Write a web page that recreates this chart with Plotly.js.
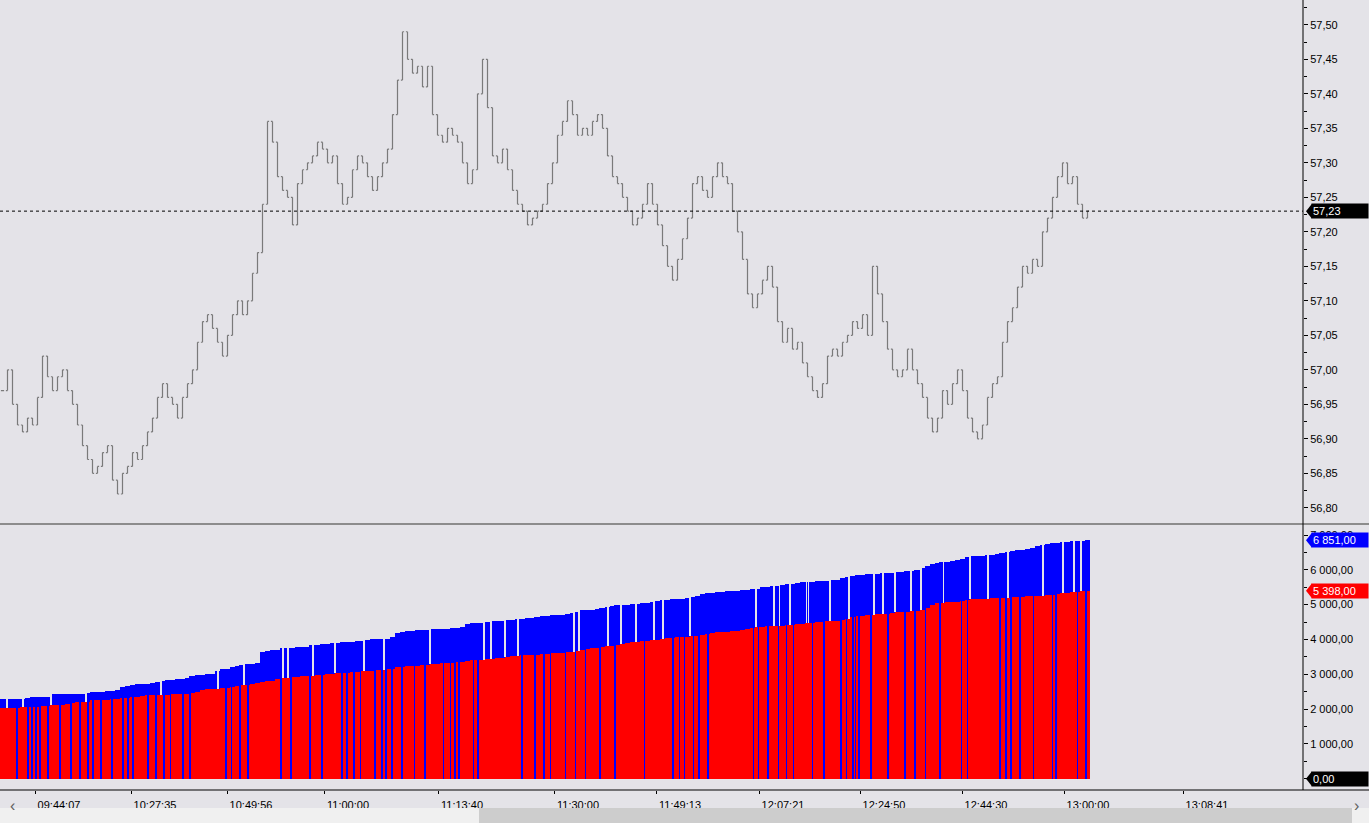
<!DOCTYPE html>
<html><head><meta charset="utf-8">
<script src="https://cdn.plot.ly/plotly-3.0.1.min.js"></script>
<style>html,body{margin:0;padding:0;background:#e4e3e8;overflow:hidden}#chart{width:1369px;height:823px}</style>
</head><body><div id="chart"></div>
<script>
// ---- data ----
const priceClose = [
56.97,57.00,56.95,56.92,56.91,56.93,56.92,56.96,57.02,56.99,
56.97,56.99,57.00,56.97,56.95,56.92,56.89,56.87,56.85,56.86,
56.88,56.89,56.84,56.82,56.85,56.86,56.88,56.87,56.89,56.91,
56.93,56.96,56.98,56.96,56.95,56.93,56.96,56.98,57.00,57.04,
57.07,57.08,57.06,57.04,57.02,57.05,57.08,57.10,57.08,57.10,
57.14,57.17,57.24,57.36,57.33,57.28,57.26,57.25,57.21,57.27,
57.29,57.30,57.31,57.33,57.32,57.30,57.31,57.27,57.24,57.25,
57.29,57.31,57.30,57.28,57.26,57.28,57.30,57.32,57.37,57.42,
57.49,57.45,57.43,57.44,57.41,57.44,57.37,57.34,57.33,57.35,
57.34,57.33,57.30,57.27,57.29,57.40,57.45,57.38,57.31,57.30,
57.32,57.29,57.26,57.24,57.23,57.21,57.22,57.23,57.24,57.27,
57.30,57.34,57.36,57.39,57.37,57.34,57.35,57.34,57.36,57.37,
57.35,57.31,57.28,57.27,57.25,57.23,57.21,57.22,57.24,57.27,
57.24,57.21,57.18,57.15,57.13,57.16,57.19,57.22,57.27,57.28,
57.26,57.25,57.28,57.30,57.28,57.27,57.23,57.20,57.16,57.11,
57.09,57.11,57.13,57.15,57.12,57.07,57.04,57.06,57.03,57.04,
57.01,56.99,56.97,56.96,56.98,57.02,57.03,57.02,57.04,57.05,
57.07,57.06,57.08,57.05,57.15,57.11,57.07,57.03,57.00,56.99,
57.00,57.03,57.00,56.98,56.96,56.93,56.91,56.93,56.97,56.95,
56.98,57.00,56.97,56.93,56.91,56.90,56.92,56.96,56.98,56.99,
57.04,57.07,57.09,57.12,57.15,57.14,57.16,57.15,57.20,57.22,
57.25,57.28,57.30,57.27,57.28,57.24,57.22,57.23];

const buyVolume = [
2280,2290,2290,2300,2300,2330,2340,2340,2340,2350,
2420,2430,2430,2430,2440,2440,2440,2450,2490,2500,
2500,2510,2520,2560,2620,2650,2700,2720,2720,2730,
2760,2780,2800,2830,2840,2850,2860,2900,2950,2970,
2980,3000,3020,3080,3150,3160,3200,3240,3270,3290,
3300,3310,3650,3680,3690,3700,3740,3760,3760,3770,
3780,3790,3830,3850,3860,3880,3890,3900,3920,3930,
3940,3950,3960,3980,4000,4000,4010,4020,4080,4180,
4200,4230,4250,4270,4280,4280,4290,4300,4300,4310,
4320,4330,4370,4450,4460,4470,4480,4500,4520,4530,
4540,4550,4560,4580,4600,4610,4630,4650,4660,4670,
4690,4700,4710,4730,4760,4800,4840,4850,4860,4880,
4900,4930,4960,4980,4990,5000,5010,5030,5050,5060,
5080,5100,5120,5140,5150,5160,5170,5190,5230,5260,
5300,5330,5340,5350,5360,5380,5390,5400,5420,5430,
5440,5460,5500,5510,5530,5540,5560,5580,5600,5620,
5640,5650,5660,5670,5680,5690,5700,5720,5760,5800,
5820,5840,5860,5870,5880,5890,5900,5910,5920,5940,
5950,5960,5970,5990,6050,6120,6180,6200,6220,6230,
6250,6280,6320,6370,6390,6400,6410,6420,6440,6460,
6480,6520,6550,6570,6580,6600,6640,6680,6700,6740,
6760,6780,6800,6810,6820,6830,6840,6851];

const sellVolume = [
2020,2030,2030,2030,2050,2060,2070,2070,2080,2090,
2120,2130,2130,2140,2180,2190,2190,2200,2250,2260,
2260,2270,2280,2300,2320,2330,2340,2340,2370,2400,
2400,2400,2410,2410,2420,2420,2430,2430,2450,2480,
2560,2570,2570,2580,2600,2610,2620,2650,2690,2700,
2720,2740,2780,2800,2820,2850,2880,2900,2910,2920,
2940,2950,2960,2980,2990,3000,3010,3030,3040,3050,
3060,3070,3080,3090,3100,3110,3120,3140,3160,3200,
3220,3230,3240,3250,3260,3280,3290,3300,3310,3320,
3330,3340,3360,3390,3410,3420,3420,3430,3440,3460,
3480,3500,3520,3530,3540,3550,3550,3560,3570,3590,
3600,3610,3620,3630,3640,3660,3700,3730,3750,3760,
3780,3800,3820,3850,3880,3900,3920,3940,3950,3960,
3980,3990,4010,4030,4050,4060,4070,4080,4090,4100,
4120,4150,4180,4200,4210,4220,4230,4250,4270,4300,
4320,4350,4370,4380,4380,4390,4400,4410,4420,4430,
4440,4460,4470,4500,4510,4520,4530,4540,4560,4600,
4640,4660,4680,4700,4710,4720,4730,4740,4760,4780,
4790,4800,4810,4830,4860,4900,4980,5050,5060,5070,
5080,5090,5100,5140,5150,5160,5160,5170,5180,5180,
5190,5200,5210,5220,5230,5240,5250,5250,5260,5270,
5280,5300,5320,5340,5360,5370,5380,5398];

// bar positions where only the blue (buy) bar is present
const buyOnlyBars = [2.86,5.1,5.9,6.7,7.5,9.1,11.5,13.7,15.5,17.1,18.1,19.7,21.9,24.1,25.1,26.1,29.1,30.7,32.3,33.6,
36.1,37.5,44.7,45.8,47.5,49.1,55.7,57.7,61.5,63.9,67.9,68.9,70.3,71.6,74.5,75.9,76.7,77.9,79.9,82.4,84.5,88.2,89.6,
90.5,91.3,94.2,95.1,103.9,106.5,108.3,109.6,112.6,114.6,116.6,119.5,122.5,128.4,134.1,135.4,136.4,138.2,139.3,141.1,
150.2,151.2,153.1,155.2,156.8,158.2,162,164.3,167.7,168.8,170.1,170.6,171.3,173.7,177.1,180.5,182.5,184.6,187.5,
191.8,193,199.5,200.7,201.7,203.5,206.2,210,210.7,215,216.7];
// bar positions where the blue (buy) bar is missing
const buyMissingBars = [0.9,4.1,9.7,16.7,31.7,43.1,48.3,56.1,57.1,62.1,66.5,72.3,76.3,85.5,96.3,97.7,100.5,103.1,
114.3,115.3,121.1,123.7,126.7,130.3,132.1,137.5,150.7,154.3,155.3,157.5,160.8,161.2,165.5,169.3,174.3,176.1,178.5,
181.7,183.7,188.2,193.5,197.1,201.1,208.1,212.1,214.3,215.7];

const timeTickPos = [6.5,25.7,44.9,64.3,87.1,110.3,130.7,151.3,171.5,191.9,212.3,236.1];
const timeTickText = ['09:44:07','10:27:35','10:49:56','11:00:00','11:13:40','11:30:00','11:49:13','12:07:21','12:24:50','12:44:30','13:00:00','13:08:41'];
const volTickVals = [1000,2000,3000,4000,5000,6000,7000];
const lastPrice = 57.23;
const lastBuy = 6851;
const lastSell = 5398;

// ---- build traces ----
const BG = '#e4e3e8';
const idx = priceClose.map((_, i) => i);
const openArr = priceClose.map((c, i) => i === 0 ? c : priceClose[i - 1]);
const highArr = priceClose.map((c, i) => Math.max(c, openArr[i]));
const lowArr = priceClose.map((c, i) => Math.min(c, openArr[i]));

const traces = [
  {type:'ohlc', x:idx, open:openArr, high:highArr, low:lowArr, close:priceClose,
   xaxis:'x', yaxis:'y', tickwidth:0.32,
   increasing:{line:{color:'#7a7a7a', width:1.2}}, decreasing:{line:{color:'#7a7a7a', width:1.2}},
   hoverinfo:'skip', showlegend:false},
  {type:'bar', x:idx, y:buyVolume, width:1, xaxis:'x', yaxis:'y2',
   marker:{color:'#0000ff', line:{width:0}}, hoverinfo:'skip', showlegend:false},
  {type:'bar', x:idx, y:sellVolume, width:1, xaxis:'x', yaxis:'y2',
   marker:{color:'#ff0000', line:{width:0}}, hoverinfo:'skip', showlegend:false},
  {type:'bar', x:buyMissingBars,
   base:buyMissingBars.map(p => sellVolume[Math.round(p)]),
   y:buyMissingBars.map(p => buyVolume[Math.round(p)] - sellVolume[Math.round(p)] + 20),
   width:0.36, xaxis:'x', yaxis:'y2',
   marker:{color:BG, line:{width:0}}, hoverinfo:'skip', showlegend:false},
  {type:'bar', x:buyOnlyBars, y:buyOnlyBars.map(p => buyVolume[Math.round(p)]),
   width:0.38, xaxis:'x', yaxis:'y2',
   marker:{color:'#0000ff', line:{width:0}}, hoverinfo:'skip', showlegend:false}
];

const FONT = 'Liberation Sans, Arial, sans-serif';
const W = 1303;           // plot width in px
const pxX = px => px / W; // paper x from pixel (layout helper)
const pyY = py => (790 - py) / 790;

function badge(y, yref, text, color) {
  return {xref:'paper', yref:yref, x:1, y:y, xanchor:'left', yanchor:'middle', xshift:8,
    text:text, showarrow:false, bgcolor:color, font:{family:FONT, size:11, color:'#ffffff'},
    width:54, align:'left', borderpad:1};
}
function pointer(y, yref, color) {
  return {type:'path', xref:'paper', yref:yref, xsizemode:'pixel', ysizemode:'pixel',
    xanchor:1, yanchor:y, path:'M 3 0 L 9 7.5 L 9 -7.5 Z', fillcolor:color, line:{width:0}, layer:'above'};
}

const layout = {
  width:1369, height:823,
  margin:{l:0, r:66, t:0, b:33, pad:0},
  paper_bgcolor:BG, plot_bgcolor:BG,
  separators:', ',
  font:{family:FONT, size:11, color:'#000000'},
  barmode:'overlay', bargap:0,
  showlegend:false,
  xaxis:{anchor:'y2', range:[-0.5, 260.1], showgrid:false, zeroline:false,
    rangeslider:{visible:false}, fixedrange:true,
    tickmode:'array', tickvals:timeTickPos, ticktext:timeTickText,
    ticks:'outside', ticklen:3, tickcolor:'#000000', ticklabelshift:24, ticklabelstandoff:2,
    showline:false, tickfont:{family:FONT, size:11, color:'#000000'}},
  yaxis:{domain:[pyY(523), 1], range:[56.778, 57.536], side:'right', showgrid:false, zeroline:false,
    dtick:0.05, tick0:0, tickformat:'.2f', ticks:'outside', ticklen:4, tickcolor:'#000000',
    minor:{dtick:0.025, ticks:'outside', ticklen:3, tickcolor:'#000000'},
    showline:false, tickfont:{family:FONT, size:11, color:'#000000'}},
  yaxis2:{domain:[0, pyY(527)], range:[-325, 7230], side:'right', showgrid:false, zeroline:false,
    tickmode:'array', tickvals:volTickVals, tickformat:',.2f', ticks:'outside', ticklen:4, tickcolor:'#000000',
    minor:{dtick:500, tick0:0, ticks:'outside', ticklen:3, tickcolor:'#000000'},
    showline:false, tickfont:{family:FONT, size:11, color:'#000000'}},
  shapes:[
    {type:'line', xref:'paper', yref:'y', x0:0, x1:1, y0:lastPrice, y1:lastPrice,
     line:{color:'#000000', width:1, dash:'3px,3px'}},
    {type:'line', xref:'paper', yref:'paper', x0:0, x1:pxX(1369), y0:pyY(524), y1:pyY(524),
     line:{color:'#8c8c8c', width:2}},
    {type:'line', xref:'paper', yref:'paper', x0:1, x1:1, y0:0, y1:1, line:{color:'#000000', width:1}},
    {type:'line', xref:'paper', yref:'paper', x0:0, x1:pxX(1369), y0:0, y1:0, line:{color:'#000000', width:1}},
    {type:'rect', xref:'paper', yref:'paper', x0:0, x1:pxX(1369), y0:pyY(823), y1:pyY(808),
     fillcolor:'#f0f0f0', line:{width:0}},
    {type:'rect', xref:'paper', yref:'paper', x0:pxX(479), x1:pxX(1352), y0:pyY(823), y1:pyY(808),
     fillcolor:'#cdcdcd', line:{width:0}},
    pointer(lastPrice, 'y', '#000000'),
    pointer(lastBuy, 'y2', '#0000ff'),
    pointer(lastSell, 'y2', '#ff0000'),
    pointer(0, 'y2', '#000000')
  ],
  annotations:[
    badge(lastPrice, 'y', '57,23', '#000000'),
    badge(lastBuy, 'y2', '6 851,00', '#0000ff'),
    badge(lastSell, 'y2', '5 398,00', '#ff0000'),
    badge(0, 'y2', '0,00', '#000000'),
    {xref:'paper', yref:'paper', x:pxX(8), y:pyY(816), text:'‹', showarrow:false,
     font:{family:FONT, size:16, color:'#606060'}},
    {xref:'paper', yref:'paper', x:pxX(1361), y:pyY(816), text:'›', showarrow:false,
     font:{family:FONT, size:16, color:'#606060'}}
  ]
};

Plotly.newPlot('chart', traces, layout, {staticPlot:true, displayModeBar:false});
</script>
</body></html>
